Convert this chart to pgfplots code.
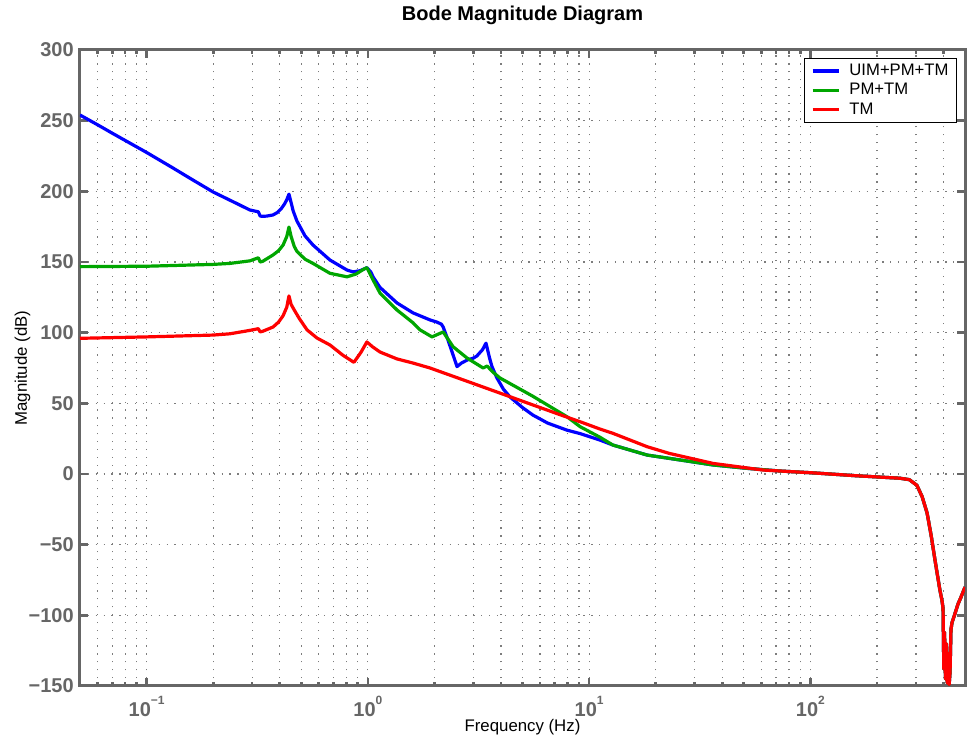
\documentclass[border=0pt]{standalone}
\usepackage{fontspec}
\setmainfont{Liberation Sans}
\usepackage{pgfplots}
\pgfplotsset{compat=1.18}

\definecolor{axgray}{rgb}{0.4,0.4,0.4}
\definecolor{dkgreen}{rgb}{0,0.65,0}
% 10^n tick label in the text font
\newcommand{\dec}[1]{10\raisebox{9pt}{\fontsize{9}{9}\selectfont #1}}

\begin{document}
\begin{tikzpicture}
\path[use as bounding box] (-60pt,-39pt) rectangle (665.25pt,514.5pt);
\begin{axis}[
    at={(0pt,0pt)}, anchor=south west,
    scale only axis,
    width=663.75pt, height=477pt,
    xmode=log,
    xmin=0.05, xmax=500,
    ymin=-150, ymax=300,
    xtick={0.1,1,10,100},
    xticklabels={\dec{−1},\dec{0},\dec{1},\dec{2}},
    minor xtick={0.06,0.07,0.08,0.09,0.2,0.3,0.4,0.5,0.6,0.7,0.8,0.9,2,3,4,5,6,7,8,9,20,30,40,50,60,70,80,90,200,300,400},
    ytick={-150,-100,-50,0,50,100,150,200,250,300},
    yticklabels={−150,−100,−50,0,50,100,150,200,250,300},
    major tick length=6pt, minor tick length=3pt,
    tick style={axgray, line width=2pt},
    axis line style={axgray, line width=2.25pt},
    grid=both,
    major grid style={axgray!85, line width=0.9pt, dash pattern=on 0.9pt off 5pt},
    minor grid style={axgray!85, line width=0.9pt, dash pattern=on 0.9pt off 5pt},
    xticklabel style={font=\fontsize{15}{15}\selectfont\bfseries, text=axgray, anchor=base, yshift=-23.25pt},
    yticklabel style={font=\fontsize{15}{15}\selectfont\bfseries, text=axgray, anchor=east, inner sep=0pt, xshift=-4.5pt},
    title={Bode Magnitude Diagram},
    title style={font=\fontsize{15}{15}\selectfont\bfseries, at={(0.5,1)}, anchor=base, yshift=15.75pt},
    xlabel={Frequency (Hz)},
    xlabel style={font=\fontsize{12.6}{12.6}\selectfont, at={(axis description cs:0.5,0)}, anchor=base, yshift=-34.5pt},
    ylabel={Magnitude (dB)},
    ylabel style={font=\fontsize{12.6}{12.6}\selectfont, at={(axis description cs:-0.0599,0.5)}, anchor=base},
    legend style={at={(0.991,0.987)}, anchor=north east, draw=black, line width=0.75pt, fill=white,
        font=\fontsize{12.5}{12.5}\selectfont, inner xsep=5pt, inner ysep=2pt, row sep=0pt, column sep=6pt,
        nodes={text height=9.5pt, text depth=3pt, inner sep=1pt}},
    legend cell align=left,
    legend image code/.code={\draw[#1] (0pt,0pt) -- (19.5pt,0pt);},
]

% UIM+PM+TM
\addplot[blue, line width=2.4pt, line join=round] coordinates {
(0.05,254) (0.06,247.1) (0.07,241.1) (0.08,236) (0.1,227.5) (0.13,217) (0.16,208.5)
(0.2,199.5) (0.25,192.1) (0.293,186.8) (0.32,185.5) (0.326,182.5) (0.335,182.3)
(0.35,182.5) (0.373,183.3) (0.39,185) (0.405,187.5) (0.42,191) (0.43,194) (0.44,198)
(0.45,192) (0.46,186) (0.478,179) (0.52,168.5) (0.565,162)
(0.674,151.4) (0.805,144.3) (0.857,143) (0.92,143.8) (0.96,145) (0.99,146) (1.03,143) (1.06,139)
(1.135,132) (1.25,126) (1.355,121) (1.6,114) (1.91,109) (2.05,107.5) (2.15,106)
(2.19,104) (2.3,95) (2.53,76) (2.65,78.5) (2.81,80.6) (3.0,82) (3.11,83.5)
(3.3,88) (3.42,92.6) (3.55,82) (3.64,76) (3.83,68) (4.1,60) (4.39,54.5)
(5.0,47) (5.57,41.7) (6.5,36) (7.95,31) (9.1,28.6) (11.2,24) (12.8,20.5)
(18.3,13.4) (25.8,9.9) (36.3,6.4) (51.7,4) (72.9,2.1) (102.8,0.8) (160,-1.2)
(254,-3) (280,-4) (303,-8) (320,-16) (337,-27.6) (352,-44) (366,-61) (385,-82)
(393,-89) (398,-95) (401,-138) (404,-112) (408,-145) (412,-120) (416,-148)
(420,-127) (424,-149) (428,-140) (432,-110) (437,-105) (450,-99) (465,-92)
(480,-87) (500,-80)
};
\addlegendentry{UIM+PM+TM}

% PM+TM
\addplot[dkgreen, line width=2.4pt, line join=round] coordinates {
(0.05,146.7) (0.1,147) (0.2,148.3) (0.238,149) (0.293,150.8) (0.32,153)
(0.326,150) (0.335,150.5) (0.373,155) (0.395,158) (0.414,162) (0.43,168) (0.44,174.7)
(0.45,168) (0.465,161) (0.478,157.5) (0.52,152)
(0.565,149) (0.674,142) (0.805,139.5) (0.885,141.5) (0.96,145) (0.99,146) (1.05,138) (1.135,128)
(1.355,116) (1.6,107) (1.72,102) (1.95,97) (2.19,100.5) (2.43,90) (2.81,82)
(3.32,75) (3.46,76.4) (3.68,72) (3.95,68) (5.57,55) (7.95,40.5) (9.1,33.5)
(11.2,26) (12.8,20.5) (18.3,13.4) (25.8,9.9) (36.3,6.4) (51.7,4) (72.9,2.1)
(102.8,0.8) (160,-1.2)
(254,-3) (280,-4) (303,-8) (320,-16) (337,-27.6) (352,-44) (366,-61) (385,-82)
(393,-89) (398,-95) (401,-138) (404,-112) (408,-145) (412,-120) (416,-148)
(420,-127) (424,-149) (428,-140) (432,-110) (437,-105) (450,-99) (465,-92)
(480,-87) (500,-80)
};
\addlegendentry{PM+TM}

% TM
\addplot[red, line width=2.4pt, line join=round] coordinates {
(0.05,96) (0.1,97) (0.2,98.3) (0.238,99.2) (0.29,101.5) (0.32,102.8)
(0.326,100.5) (0.335,101) (0.373,104) (0.395,107.5) (0.414,112) (0.43,118) (0.44,126)
(0.45,120) (0.465,116) (0.49,110) (0.531,102)
(0.589,96.2) (0.674,91.3) (0.772,84) (0.865,79) (0.93,86) (0.99,93.4) (1.05,90)
(1.135,86.3) (1.355,81.4) (1.6,78.5) (1.91,75) (3,64) (5,51.5) (7.5,41.6)
(9.1,37) (11.2,31.8) (12.8,28.8) (18.3,19.3) (23,14.6) (36.3,7.5) (61,2.8)
(102.8,0.8) (160,-1.2)
(254,-3) (280,-4) (303,-8) (320,-16) (337,-27.6) (352,-44) (366,-61) (385,-82)
(393,-89) (398,-95) (401,-138) (404,-112) (408,-145) (412,-120) (416,-148)
(420,-127) (424,-149) (428,-140) (432,-110) (437,-105) (450,-99) (465,-92)
(480,-87) (500,-80)
};
\addlegendentry{TM}

\end{axis}
\end{tikzpicture}
\end{document}
